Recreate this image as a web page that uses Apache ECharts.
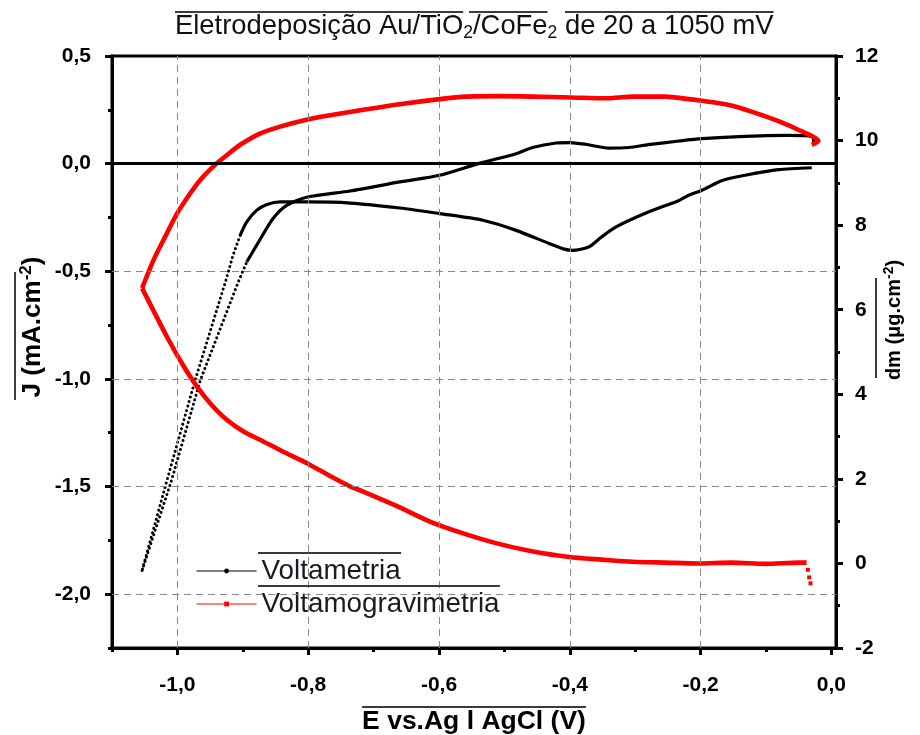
<!DOCTYPE html>
<html>
<head>
<meta charset="utf-8">
<script src="https://cdn.jsdelivr.net/npm/echarts@6/dist/echarts.min.js"></script>
<style>
  html, body { margin: 0; padding: 0; background: #fff; }
  #chart { width: 920px; height: 735px; }
</style>
</head>
<body>
<div id="chart"></div>
<script>
// Potential E (V vs Ag|AgCl) paired with current density J (mA/cm2)
// Cathodic sweep, from 20 mV towards -1050 mV
const jForward = [
  [-0.030,-0.019],[-0.081,-0.028],[-0.132,-0.054],[-0.167,-0.078],[-0.198,-0.124],
  [-0.218,-0.147],[-0.233,-0.171],[-0.280,-0.225],[-0.330,-0.295],[-0.352,-0.342],
  [-0.370,-0.385],[-0.385,-0.399],[-0.396,-0.403],[-0.410,-0.396],[-0.431,-0.372],
  [-0.482,-0.310],[-0.533,-0.263],[-0.599,-0.232],[-0.660,-0.206],[-0.736,-0.183],
  [-0.801,-0.178],[-0.843,-0.178],[-0.863,-0.190],[-0.879,-0.217],[-0.894,-0.271],
  [-0.904,-0.333]
];
const jForwardSteep = [
  [-0.904,-0.333],[-0.915,-0.426],[-0.925,-0.534],[-0.973,-1.007],[-1.016,-1.472],[-1.054,-1.890]
];
// Anodic sweep, back from -1050 mV
const jReverseSteep = [
  [-1.054,-1.890],[-1.009,-1.472],[-0.965,-1.007],[-0.907,-0.550],[-0.894,-0.457]
];
const jReverse = [
  [-0.894,-0.457],[-0.873,-0.349],[-0.854,-0.256],[-0.833,-0.194],[-0.801,-0.155],
  [-0.736,-0.127],[-0.660,-0.085],[-0.599,-0.054],[-0.540,0.000],[-0.482,0.046],
  [-0.457,0.075],[-0.421,0.096],[-0.400,0.098],[-0.376,0.090],[-0.340,0.072],
  [-0.310,0.075],[-0.280,0.088],[-0.233,0.105],[-0.198,0.116],[-0.132,0.127],
  [-0.066,0.131],[-0.030,0.127],[-0.027,0.093]
];

// Potential E paired with deposited mass dm (ug/cm2)
const dmStart = [[-0.032,-0.47],[-0.034,-0.33],[-0.036,-0.15]];
const dmForward = [
  [-0.038,0.02],[-0.050,0.02],[-0.101,-0.01],[-0.152,0.02],[-0.203,0.00],[-0.254,0.02],
  [-0.304,0.04],[-0.351,0.09],[-0.401,0.15],[-0.462,0.30],[-0.513,0.48],[-0.563,0.71],
  [-0.614,0.99],[-0.665,1.36],[-0.716,1.70],[-0.736,1.82],[-0.767,2.07],[-0.802,2.37],
  [-0.838,2.64],[-0.873,2.92],[-0.899,3.12],[-0.924,3.39],[-0.950,3.79],[-0.970,4.18],
  [-0.990,4.65],[-1.016,5.36],[-1.054,6.51]
];
const dmReverse = [
  [-1.054,6.51],[-1.036,7.19],[-1.016,7.81],[-1.000,8.29],[-0.980,8.76],[-0.965,9.07],
  [-0.942,9.43],[-0.924,9.66],[-0.904,9.90],[-0.873,10.17],[-0.843,10.33],[-0.801,10.50],
  [-0.762,10.61],[-0.711,10.74],[-0.660,10.86],[-0.599,10.98],[-0.558,11.04],[-0.508,11.05],
  [-0.457,11.04],[-0.398,11.02],[-0.345,11.00],[-0.304,11.04],[-0.254,11.04],[-0.218,10.98],
  [-0.198,10.94],[-0.157,10.84],[-0.121,10.68],[-0.081,10.46],[-0.050,10.25],[-0.020,9.99],
  [-0.030,9.90]
];

// Axis ticks and grid positions
const eTicks = [-1.0, -0.8, -0.6, -0.4, -0.2, 0.0];
const eMinor = [-1.1, -0.9, -0.7, -0.5, -0.3, -0.1];
const jTicks = [0.5, 0.0, -0.5, -1.0, -1.5, -2.0];
const jMinor = [0.25, -0.25, -0.75, -1.25, -1.75, -2.25];
const eGrid = [-1.0, -0.8, -0.6, -0.4, -0.2];
const jGrid = [-0.5, -1.0, -1.5, -2.0];

// Text
const titleParts = ['Eletrodeposição Au/TiO', '2', '/CoFe', '2', ' de 20 a 1050 mV'];
const xName = 'E vs.Ag l AgCl (V)';
const legendNames = ['Voltametria', 'Voltamogravimetria'];

const FONT = '"Liberation Sans", Arial, sans-serif';
const comma = v => v.toFixed(1).replace('.', ',');

// Layout
const G = { left: 112, right: 84, top: 56, bottom: 87 };
const W = 920;
const TITLE_X = 175, TITLE_SIZE = 27.4, SUB_SIZE = 17.5;
const LEG_X = 196, LEG_Y = 556, LEG_ICON = 60, LEG_SIZE = 27.8;
const XNAME_SIZE = 26.5;

const ctx = document.createElement('canvas').getContext('2d');
const textW = (s, size, weight) => {
  ctx.font = (weight || 'normal') + ' ' + size + 'px ' + FONT;
  return ctx.measureText(s).width;
};

const chart = echarts.init(document.getElementById('chart'), null, { renderer: 'canvas' });

const axisLine = { show: true, onZero: false, lineStyle: { color: '#000', width: 3 } };
const majorTick = { show: true, inside: false, length: 7, lineStyle: { color: '#000', width: 3 } };
const minorTick = { show: true, inside: false, length: 4, lineStyle: { color: '#000', width: 3 } };
const tickLabel = { color: '#000', fontFamily: FONT, fontWeight: 'bold', fontSize: 21 };
const gridDash = { color: '#8a8a8a', width: 1, type: [7, 5] };

const blackLine = { color: '#000', width: 3.2 };
const redLine = { color: '#ff0000', width: 4.6 };
const dots = (c, w) => ({ color: c, width: w, type: [0.1, 4.6], cap: 'round' });

const overline = (x1, y1, x2, y2) => ({
  type: 'line', silent: true, z: 100,
  shape: { x1, y1, x2, y2 },
  style: { stroke: '#3a3a3a', lineWidth: 2 }
});

// Overlines above the title runs
const tw = titleParts.map((p, i) => textW(p, i % 2 ? SUB_SIZE : TITLE_SIZE));
const tx = [TITLE_X];
for (let i = 1; i < tw.length; i++) tx.push(tx[i - 1] + tw[i - 1]);
const spaceW = textW(' ', TITLE_SIZE);
const overlines = [
  overline(tx[0], 12, tx[0] + tw[0], 12),
  overline(tx[2] - 4, 12, tx[2] + tw[2], 12),
  overline(tx[4] + spaceW, 12, tx[4] + tw[4], 12)
];
// Overline above the x axis name
const xMid = G.left + (W - G.left - G.right) / 2;
const xw = textW(xName, XNAME_SIZE, 'bold');
overlines.push(overline(xMid - xw / 2, 707, xMid + xw / 2, 707));
// Overlines above the legend entries
legendNames.forEach((n, i) => {
  const x0 = LEG_X + LEG_ICON + 2;
  overlines.push(overline(x0, 553 + i * 33, x0 + 4 + textW(n, LEG_SIZE), 553 + i * 33));
});
// Overlines beside the rotated axis names
overlines.push(overline(15, 272, 15, 400));
overlines.push(overline(876, 278, 876, 378));

const option = {
  backgroundColor: '#fff',
  animation: false,
  title: {
    left: TITLE_X, top: 11, padding: 0,
    text: titleParts.map((p, i) => '{' + (i % 2 ? 's' : 'a') + '|' + p + '}').join(''),
    textStyle: {
      fontWeight: 'normal',
      rich: {
        a: { fontFamily: FONT, fontWeight: 'normal', fontSize: TITLE_SIZE, color: '#111', lineHeight: 30 },
        s: { fontFamily: FONT, fontWeight: 'normal', fontSize: SUB_SIZE, color: '#111', lineHeight: 30, padding: [14, 0, 0, 0] }
      }
    }
  },
  legend: {
    orient: 'vertical', left: LEG_X, top: LEG_Y, padding: 0,
    itemWidth: LEG_ICON, itemHeight: 6, itemGap: 3,
    lineStyle: { width: 1.2 },
    textStyle: { fontFamily: FONT, fontSize: LEG_SIZE, color: '#1a1a22', lineHeight: 30 },
    data: legendNames
  },
  grid: Object.assign({
    show: true, borderColor: '#000', borderWidth: 3,
    containLabel: false, outerBoundsMode: 'none'
  }, G),
  xAxis: [
    {
      type: 'value', min: -1.1, max: 0.007, position: 'bottom',
      axisLine, axisTick: Object.assign({ customValues: eTicks }, majorTick),
      axisLabel: Object.assign({ customValues: eTicks, margin: 27, formatter: comma }, tickLabel),
      splitLine: { show: false },
      name: xName, nameLocation: 'middle', nameGap: 60, nameMoveOverlap: false,
      nameTextStyle: { fontFamily: FONT, fontWeight: 'bold', fontSize: XNAME_SIZE, color: '#000' }
    },
    {
      type: 'value', min: -1.1, max: 0.007, position: 'bottom',
      axisLine: { show: false, onZero: false }, axisTick: Object.assign({ customValues: eMinor }, minorTick),
      axisLabel: { show: false, customValues: eMinor }, splitLine: { show: false }
    }
  ],
  yAxis: [
    {
      type: 'value', min: -2.25, max: 0.5, position: 'left',
      axisLine, axisTick: Object.assign({ customValues: jTicks }, majorTick),
      axisLabel: Object.assign({ customValues: jTicks, margin: 21, formatter: comma }, tickLabel),
      splitLine: { show: false },
      name: 'J (mA.cm{sup|-2})', nameLocation: 'middle', nameGap: 64, nameRotate: 90, nameMoveOverlap: false,
      nameTextStyle: {
        fontFamily: FONT, fontWeight: 'bold', fontSize: 26, color: '#000', padding: [0, 0, 0, 50],
        rich: { sup: { fontFamily: FONT, fontWeight: 'bold', fontSize: 17, color: '#000', padding: [0, 0, 13, 0] } }
      }
    },
    {
      type: 'value', min: -2, max: 12, interval: 2, position: 'right',
      axisLine, axisTick: majorTick,
      minorTick: { show: true, splitNumber: 2, length: 4, lineStyle: { color: '#000', width: 3 } },
      axisLabel: Object.assign({ margin: 19 }, tickLabel),
      splitLine: { show: false },
      name: 'dm (μg.cm{sup|-2})', nameLocation: 'middle', nameGap: 46, nameRotate: 90, nameMoveOverlap: false,
      nameTextStyle: {
        fontFamily: FONT, fontWeight: 'bold', fontSize: 20, color: '#000', padding: [0, 0, 0, 64],
        rich: { sup: { fontFamily: FONT, fontWeight: 'bold', fontSize: 14, color: '#000', padding: [0, 0, 10, 0] } }
      }
    },
    {
      type: 'value', min: -2.25, max: 0.5, position: 'left',
      axisLine: { show: false, onZero: false }, axisTick: Object.assign({ customValues: jMinor }, minorTick),
      axisLabel: { show: false, customValues: jMinor }, splitLine: { show: false }
    }
  ],
  series: [
    {
      name: legendNames[0], type: 'line', xAxisIndex: 0, yAxisIndex: 0,
      data: jForward, symbol: 'circle', showSymbol: false, smooth: 0.25,
      itemStyle: { color: '#000' }, lineStyle: blackLine, z: 3,
      markLine: {
        silent: true, symbol: 'none', label: { show: false }, animation: false,
        data: eGrid.map(v => ({ xAxis: v, lineStyle: gridDash }))
          .concat(jGrid.map(v => ({ yAxis: v, lineStyle: gridDash })))
          .concat([{ yAxis: 0, lineStyle: { color: '#000', width: 3, type: 'solid' } }])
      }
    },
    {
      name: legendNames[0], type: 'line', xAxisIndex: 0, yAxisIndex: 0,
      data: jForwardSteep, symbol: 'circle', showSymbol: false,
      itemStyle: { color: '#000' }, lineStyle: dots('#000', 3), z: 3
    },
    {
      name: legendNames[0], type: 'line', xAxisIndex: 0, yAxisIndex: 0,
      data: jReverseSteep, symbol: 'circle', showSymbol: false,
      itemStyle: { color: '#000' }, lineStyle: dots('#000', 3), z: 3
    },
    {
      name: legendNames[0], type: 'line', xAxisIndex: 0, yAxisIndex: 0,
      data: jReverse, symbol: 'circle', showSymbol: false, smooth: 0.25,
      itemStyle: { color: '#000' }, lineStyle: blackLine, z: 3
    },
    {
      name: legendNames[1], type: 'line', xAxisIndex: 0, yAxisIndex: 1,
      data: dmForward, symbol: 'rect', showSymbol: false, smooth: 0.25,
      itemStyle: { color: '#ff0000' }, lineStyle: redLine, z: 4
    },
    {
      name: legendNames[1], type: 'line', xAxisIndex: 0, yAxisIndex: 1,
      data: dmReverse, symbol: 'rect', showSymbol: false, smooth: 0.25,
      itemStyle: { color: '#ff0000' }, lineStyle: redLine, z: 4
    },
    {
      name: legendNames[1], type: 'line', xAxisIndex: 0, yAxisIndex: 1,
      data: dmStart, symbol: 'rect', symbolSize: 4, showSymbol: true,
      itemStyle: { color: '#ff0000' }, lineStyle: { width: 0, opacity: 0 }, z: 4
    }
  ],
  graphic: overlines
};

chart.setOption(option);
</script>
</body>
</html>
